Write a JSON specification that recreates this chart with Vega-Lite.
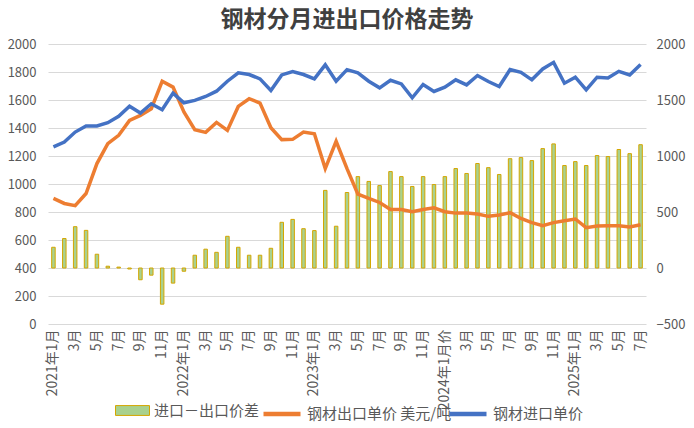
{
  "$schema": "https://vega.github.io/schema/vega-lite/v6.json",
  "description": "钢材分月进出口价格走势",
  "width": 598,
  "height": 280,
  "autosize": {"type": "none"},
  "padding": {"left": 48, "top": 44, "right": 48, "bottom": 104},
  "background": "white",
  "title": {
    "text": "钢材分月进出口价格走势",
    "font": "Noto Sans CJK SC",
    "fontSize": 23,
    "fontWeight": "bold",
    "color": "#404040",
    "anchor": "middle",
    "offset": 6
  },
  "config": {
    "font": "Noto Sans CJK SC",
    "view": {"stroke": null},
    "axis": {
      "labelFont": "Noto Sans CJK SC",
      "labelFontSize": 13,
      "labelColor": "#595959",
      "domain": false,
      "ticks": false,
      "gridColor": "#D9D9D9",
      "gridWidth": 1,
      "title": null
    },
    "legend": {
      "labelFont": "Noto Sans CJK SC",
      "labelFontSize": 15,
      "labelColor": "#595959",
      "labelOffset": 4,
      "padding": 0,
      "title": null,
      "orient": "none"
    }
  },
  "data": {
    "values": [
      {"m": "2021-01", "imp": 1265, "exp": 897, "diff": 185},
      {"m": "2021-02", "imp": 1300, "exp": 861, "diff": 263},
      {"m": "2021-03", "imp": 1371, "exp": 845, "diff": 369},
      {"m": "2021-04", "imp": 1414, "exp": 932, "diff": 336},
      {"m": "2021-05", "imp": 1414, "exp": 1146, "diff": 123},
      {"m": "2021-06", "imp": 1438, "exp": 1288, "diff": 16},
      {"m": "2021-07", "imp": 1483, "exp": 1348, "diff": 8},
      {"m": "2021-08", "imp": 1556, "exp": 1454, "diff": -9},
      {"m": "2021-09", "imp": 1507, "exp": 1490, "diff": -105},
      {"m": "2021-10", "imp": 1573, "exp": 1537, "diff": -64},
      {"m": "2021-11", "imp": 1530, "exp": 1734, "diff": -323},
      {"m": "2021-12", "imp": 1649, "exp": 1692, "diff": -135},
      {"m": "2022-01", "imp": 1580, "exp": 1514, "diff": -29},
      {"m": "2022-02", "imp": 1597, "exp": 1388, "diff": 114},
      {"m": "2022-03", "imp": 1625, "exp": 1369, "diff": 168},
      {"m": "2022-04", "imp": 1663, "exp": 1440, "diff": 140},
      {"m": "2022-05", "imp": 1734, "exp": 1383, "diff": 283},
      {"m": "2022-06", "imp": 1794, "exp": 1554, "diff": 185},
      {"m": "2022-07", "imp": 1782, "exp": 1609, "diff": 114},
      {"m": "2022-08", "imp": 1751, "exp": 1578, "diff": 114},
      {"m": "2022-09", "imp": 1668, "exp": 1402, "diff": 176},
      {"m": "2022-10", "imp": 1779, "exp": 1317, "diff": 408},
      {"m": "2022-11", "imp": 1803, "exp": 1319, "diff": 434},
      {"m": "2022-12", "imp": 1782, "exp": 1371, "diff": 351},
      {"m": "2023-01", "imp": 1751, "exp": 1359, "diff": 334},
      {"m": "2023-02", "imp": 1851, "exp": 1110, "diff": 693},
      {"m": "2023-03", "imp": 1734, "exp": 1305, "diff": 373},
      {"m": "2023-04", "imp": 1817, "exp": 1110, "diff": 674},
      {"m": "2023-05", "imp": 1794, "exp": 928, "diff": 816},
      {"m": "2023-06", "imp": 1734, "exp": 897, "diff": 773},
      {"m": "2023-07", "imp": 1687, "exp": 868, "diff": 736},
      {"m": "2023-08", "imp": 1741, "exp": 818, "diff": 861},
      {"m": "2023-09", "imp": 1715, "exp": 818, "diff": 816},
      {"m": "2023-10", "imp": 1616, "exp": 802, "diff": 728},
      {"m": "2023-11", "imp": 1711, "exp": 818, "diff": 816},
      {"m": "2023-12", "imp": 1661, "exp": 830, "diff": 745},
      {"m": "2024-01", "imp": 1692, "exp": 802, "diff": 816},
      {"m": "2024-02", "imp": 1744, "exp": 792, "diff": 888},
      {"m": "2024-03", "imp": 1708, "exp": 792, "diff": 844},
      {"m": "2024-04", "imp": 1775, "exp": 785, "diff": 933},
      {"m": "2024-05", "imp": 1732, "exp": 769, "diff": 896},
      {"m": "2024-06", "imp": 1696, "exp": 778, "diff": 835},
      {"m": "2024-07", "imp": 1817, "exp": 795, "diff": 976},
      {"m": "2024-08", "imp": 1798, "exp": 754, "diff": 986},
      {"m": "2024-09", "imp": 1744, "exp": 724, "diff": 959},
      {"m": "2024-10", "imp": 1822, "exp": 702, "diff": 1066},
      {"m": "2024-11", "imp": 1869, "exp": 724, "diff": 1108},
      {"m": "2024-12", "imp": 1720, "exp": 738, "diff": 915},
      {"m": "2025-01", "imp": 1763, "exp": 750, "diff": 950},
      {"m": "2025-02", "imp": 1673, "exp": 688, "diff": 915},
      {"m": "2025-03", "imp": 1763, "exp": 700, "diff": 1004},
      {"m": "2025-04", "imp": 1758, "exp": 702, "diff": 995},
      {"m": "2025-05", "imp": 1805, "exp": 702, "diff": 1058},
      {"m": "2025-06", "imp": 1779, "exp": 693, "diff": 1021},
      {"m": "2025-07", "imp": 1853, "exp": 709, "diff": 1101}
    ]
  },
  "encoding": {
    "x": {
      "field": "m",
      "type": "ordinal",
      "sort": null,
      "scale": {"type": "band", "paddingInner": 0, "paddingOuter": 0},
      "axis": {
        "labelAngle": -90,
        "labelFontSize": 14,
        "labelPadding": 5,
        "labelOverlap": false,
        "grid": false,
        "labelExpr": "datum.value == '2024-01' ? '2024年1月价' : (substring(datum.value, 5, 7) == '01' ? substring(datum.value, 0, 4) + '年1月' : (toNumber(substring(datum.value, 5, 7)) % 2 == 1 ? toNumber(substring(datum.value, 5, 7)) + '月' : ''))"
      }
    }
  },
  "layer": [
    {
      "mark": {"type": "bar", "size": 3.5, "stroke": "#D4A600", "strokeWidth": 1},
      "encoding": {
        "y": {
          "field": "diff",
          "type": "quantitative",
          "scale": {"domain": [-500, 2000], "nice": false, "zero": false},
          "axis": {
            "orient": "right",
            "grid": false,
            "format": "d",
            "values": [-500, 0, 500, 1000, 1500, 2000],
            "labelPadding": 10,
            "labelAlign": "left"
          }
        },
        "color": {
          "datum": "进口－出口价差",
          "type": "nominal",
          "scale": {"domain": ["进口－出口价差"], "range": ["#A9D18E"]},
          "legend": {
            "legendX": 67,
            "legendY": 349,
            "symbolType": "M-1,-0.29H1V0.29H-1Z",
            "symbolSize": 1156,
            "symbolStrokeColor": "#D4A600",
            "symbolStrokeWidth": 1,
            "symbolOpacity": 1
          }
        }
      }
    },
    {
      "mark": {"type": "line", "strokeWidth": 3.5},
      "encoding": {
        "y": {
          "field": "exp",
          "type": "quantitative",
          "scale": {"domain": [0, 2000], "nice": false},
          "axis": {
            "orient": "left",
            "grid": true,
            "format": "d",
            "values": [0, 200, 400, 600, 800, 1000, 1200, 1400, 1600, 1800, 2000],
            "labelPadding": 12
          }
        },
        "color": {
          "datum": "钢材出口单价 美元/吨",
          "type": "nominal",
          "scale": {"domain": ["钢材出口单价 美元/吨"], "range": ["#ED7D31"]},
          "legend": {
            "legendX": 213,
            "legendY": 349,
            "symbolType": "stroke",
            "symbolSize": 1369,
            "symbolStrokeWidth": 4.5
          }
        }
      }
    },
    {
      "mark": {"type": "line", "strokeWidth": 3.5},
      "encoding": {
        "y": {
          "field": "imp",
          "type": "quantitative",
          "scale": {"domain": [0, 2000], "nice": false},
          "axis": null
        },
        "color": {
          "datum": "钢材进口单价",
          "type": "nominal",
          "scale": {"domain": ["钢材进口单价"], "range": ["#4472C4"]},
          "legend": {
            "legendX": 399,
            "legendY": 349,
            "symbolType": "stroke",
            "symbolSize": 1369,
            "symbolStrokeWidth": 4.5
          }
        }
      }
    }
  ],
  "resolve": {"scale": {"y": "independent", "color": "independent"}}
}
